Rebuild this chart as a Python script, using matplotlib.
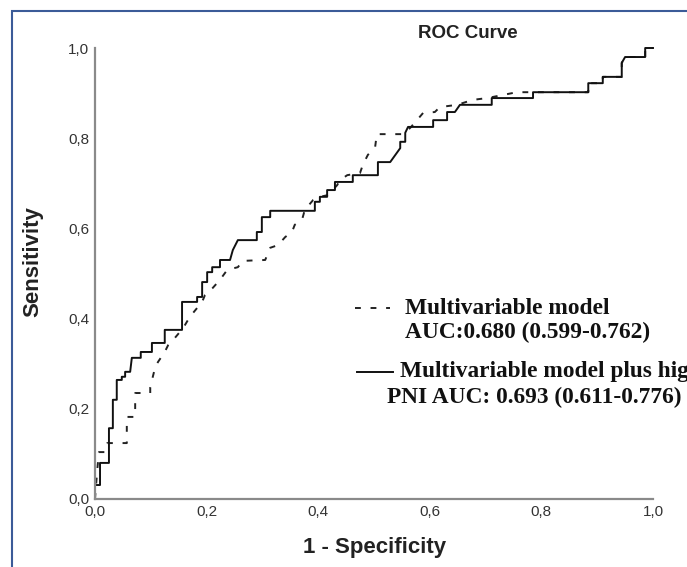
import matplotlib
matplotlib.use("Agg")
import matplotlib.pyplot as plt
from matplotlib.patches import Rectangle

# Multivariable model plus high PNI (solid)
solid_fpr = [0, 0, 0.009, 0.009, 0.025, 0.025, 0.032, 0.032, 0.039, 0.039,
             0.048, 0.048, 0.054, 0.054, 0.063, 0.066, 0.082, 0.082, 0.102, 0.102,
             0.125, 0.125, 0.156, 0.156, 0.183, 0.183, 0.192, 0.192, 0.201, 0.201,
             0.210, 0.210, 0.224, 0.224, 0.242, 0.247, 0.256, 0.290, 0.290, 0.299,
             0.299, 0.314, 0.314, 0.394, 0.394, 0.403, 0.403, 0.416, 0.416, 0.430,
             0.430, 0.462, 0.462, 0.507, 0.507, 0.529, 0.547, 0.547, 0.556, 0.556,
             0.561, 0.606, 0.606, 0.631, 0.631, 0.645, 0.654, 0.711, 0.711, 0.785,
             0.785, 0.884, 0.884, 0.910, 0.910, 0.944, 0.944, 0.950, 0.986, 0.986,
             1.0]
solid_tpr = [0, 0.031, 0.031, 0.080, 0.080, 0.157, 0.157, 0.220, 0.220, 0.264,
             0.264, 0.271, 0.271, 0.282, 0.282, 0.313, 0.313, 0.326, 0.326, 0.346,
             0.346, 0.375, 0.375, 0.437, 0.437, 0.448, 0.448, 0.481, 0.481, 0.503,
             0.503, 0.514, 0.514, 0.530, 0.530, 0.552, 0.574, 0.574, 0.592, 0.592,
             0.625, 0.625, 0.639, 0.639, 0.659, 0.659, 0.670, 0.670, 0.685, 0.685,
             0.703, 0.703, 0.718, 0.718, 0.747, 0.747, 0.778, 0.792, 0.792, 0.812,
             0.825, 0.825, 0.840, 0.840, 0.858, 0.858, 0.874, 0.874, 0.889, 0.889,
             0.902, 0.902, 0.922, 0.922, 0.936, 0.936, 0.967, 0.980, 0.980, 1.0,
             1.0]

# Multivariable model (dashed)
dashed_fpr = [0, 0.004, 0.007, 0.018, 0.022, 0.057, 0.057, 0.072, 0.072, 0.099,
              0.099, 0.108, 0.113, 0.125, 0.131, 0.143, 0.158, 0.170, 0.192, 0.197,
              0.211, 0.224, 0.237, 0.256, 0.265, 0.305, 0.314, 0.328, 0.341, 0.353,
              0.358, 0.371, 0.376, 0.391, 0.403, 0.418, 0.434, 0.439, 0.452, 0.475,
              0.480, 0.489, 0.502, 0.505, 0.552, 0.565, 0.577, 0.588, 0.609, 0.618,
              0.649, 0.677, 0.703, 0.756, 0.884, 0.884, 0.910, 0.910, 0.944, 0.944,
              0.950, 0.986, 0.986, 1.0]
dashed_tpr = [0, 0.064, 0.104, 0.104, 0.124, 0.124, 0.182, 0.182, 0.235, 0.235,
              0.248, 0.293, 0.304, 0.326, 0.341, 0.357, 0.379, 0.404, 0.437, 0.452,
              0.468, 0.486, 0.508, 0.514, 0.528, 0.530, 0.557, 0.563, 0.581, 0.592,
              0.608, 0.619, 0.641, 0.663, 0.670, 0.674, 0.696, 0.707, 0.718, 0.723,
              0.741, 0.763, 0.780, 0.809, 0.809, 0.823, 0.840, 0.856, 0.858, 0.869,
              0.874, 0.885, 0.889, 0.902, 0.902, 0.922, 0.922, 0.936, 0.936, 0.967,
              0.980, 0.980, 1.0, 1.0]

ticks = [0.0, 0.2, 0.4, 0.6, 0.8, 1.0]
tick_labels = ["0,0", "0,2", "0,4", "0,6", "0,8", "1,0"]

W, H = 687, 567
fig = plt.figure(figsize=(W / 100, H / 100), dpi=100)
fig.patch.set_facecolor("white")

# blue frame around the figure
fig.patches.append(Rectangle((12 / W, -0.1), 1.2, 1 - 11 / H + 0.1,
                             transform=fig.transFigure, fill=False,
                             edgecolor="#3b5b98", linewidth=1.5, zorder=0))

ax = fig.add_axes([95 / W, 1 - 499 / H, (653 - 95) / W, (499 - 48) / H])
ax.plot(dashed_fpr, dashed_tpr, color="#222222", lw=1.4,
        linestyle=(0, (3, 5)), clip_on=False)
ax.plot(solid_fpr, solid_tpr, color="#111111", lw=1.4, clip_on=False)

ax.set_xlim(0, 1)
ax.set_ylim(0, 1)
for s in ["top", "right"]:
    ax.spines[s].set_visible(False)
for s in ["left", "bottom"]:
    ax.spines[s].set_color("#8a8a8a")
    ax.spines[s].set_linewidth(1.6)
ax.set_xticks(ticks)
ax.set_xticklabels(tick_labels)
ax.set_yticks(ticks)
ax.set_yticklabels(tick_labels)
ax.tick_params(length=0, labelsize=11, colors="#333333", pad=4)
for lbl in ax.get_xticklabels() + ax.get_yticklabels():
    lbl.set_family("Liberation Sans")

fig.text(468 / W, 1 - 33 / H, "ROC Curve", ha="center", va="center",
         fontsize=13.5, family="Liberation Sans", fontweight="bold", color="#222222")
fig.text(33 / W, 1 - 262 / H, "Sensitivity", ha="center", va="center",
         rotation=90, fontsize=16, family="Liberation Sans", fontweight="bold",
         color="#222222")
fig.text(375 / W, 1 - 548 / H, "1 - Specificity", ha="center", va="center",
         fontsize=16, family="Liberation Sans", fontweight="bold", color="#222222")

# legend
fig.add_artist(plt.Line2D([355 / W, 390 / W], [1 - 308 / H, 1 - 308 / H],
                          transform=fig.transFigure, color="#222222", lw=1.4,
                          linestyle=(0, (3, 5))))
fig.add_artist(plt.Line2D([357 / W, 393 / W], [1 - 372 / H, 1 - 372 / H],
                          transform=fig.transFigure, color="#111111", lw=1.4))
serif = dict(family="Liberation Serif", fontweight="bold", fontsize=16.8,
             color="#111111", va="center", ha="left")
fig.text(405 / W, 1 - 308 / H, "Multivariable model", **serif)
fig.text(405 / W, 1 - 332 / H, "AUC:0.680 (0.599-0.762)", **serif)
fig.text(400 / W, 1 - 372 / H, "Multivariable model plus high", **serif)
fig.text(387 / W, 1 - 397 / H, "PNI AUC: 0.693 (0.611-0.776)", **serif)

fig.savefig("out.png", dpi=100)
